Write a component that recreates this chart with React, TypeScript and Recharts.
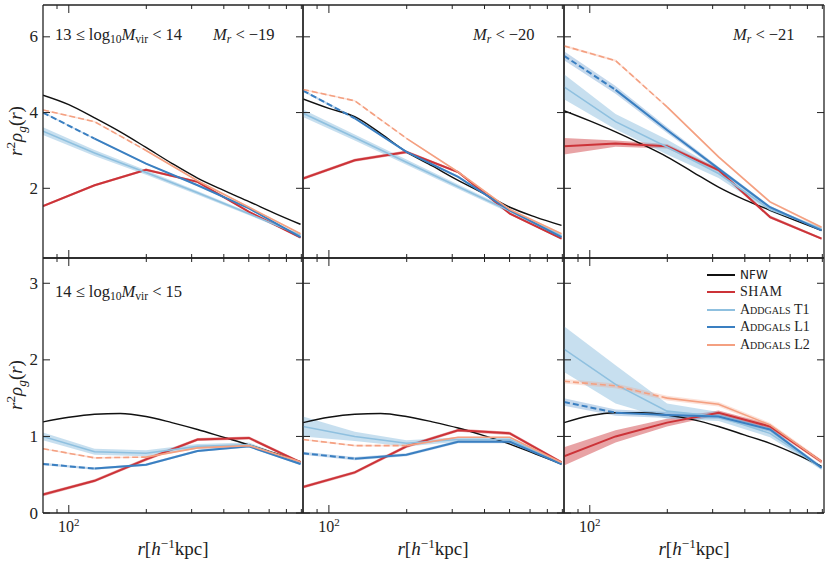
import React from 'react';
import { ComposedChart, Line, Area, XAxis, YAxis } from 'recharts';

// radii (h^-1 kpc): the smooth NFW curve and the measured bins
const NFW_R = [79.4, 100, 125.9, 158.5, 199.5, 251.2, 316.2, 398.1, 501.2, 631.0, 794.3];
const BIN_R = [79.4, 125.9, 199.5, 316.2, 501.2, 794.3];

// one row per panel: top row Mr<-19, -20, -21, then the bottom row
const NFW = [
  [4.46, 4.21, 3.86, 3.49, 3.08, 2.66, 2.27, 1.95, 1.65, 1.34, 1.05],
  [4.36, 4.11, 3.89, 3.45, 2.96, 2.59, 2.21, 1.86, 1.5, 1.24, 1.02],
  [4.05, 3.78, 3.49, 3.17, 2.83, 2.43, 2.03, 1.7, 1.42, 1.15, 0.89],
  [1.19, 1.25, 1.29, 1.3, 1.26, 1.18, 1.09, 0.99, 0.89, 0.78, 0.67],
  [1.18, 1.25, 1.29, 1.3, 1.26, 1.19, 1.11, 1.01, 0.9, 0.77, 0.64],
  [1.18, 1.27, 1.31, 1.31, 1.28, 1.22, 1.13, 1.02, 0.91, 0.77, 0.61],
];

const SHAM = [
  [1.53, 2.08, 2.49, 2.17, 1.38, 0.7],
  [2.26, 2.74, 2.96, 2.43, 1.33, 0.67],
  [3.11, 3.18, 3.11, 2.48, 1.24, 0.67],
  [0.24, 0.42, 0.7, 0.96, 0.98, 0.66],
  [0.34, 0.53, 0.87, 1.08, 1.04, 0.66],
  [0.74, 1.0, 1.18, 1.31, 1.13, 0.67],
];
const SHAM_ERR = [
  [0.03, 0.03, 0.03, 0.03, 0.02, 0.02],
  [0.04, 0.04, 0.04, 0.03, 0.03, 0.02],
  [0.22, 0.08, 0.06, 0.05, 0.04, 0.03],
  [0.02, 0.02, 0.02, 0.02, 0.02, 0.02],
  [0.02, 0.02, 0.02, 0.02, 0.02, 0.02],
  [0.12, 0.08, 0.05, 0.03, 0.03, 0.02],
];

const T1 = [
  [3.51, 2.93, 2.42, 1.88, 1.33, 0.76],
  [3.98, 3.34, 2.69, 2.04, 1.4, 0.75],
  [4.68, 3.76, 3.09, 2.39, 1.44, 0.93],
  [1.0, 0.8, 0.78, 0.87, 0.89, 0.65],
  [1.13, 1.0, 0.91, 0.96, 0.96, 0.65],
  [2.14, 1.68, 1.33, 1.26, 1.04, 0.59],
];
const T1_ERR = [
  [0.1, 0.08, 0.06, 0.05, 0.04, 0.03],
  [0.1, 0.08, 0.07, 0.06, 0.05, 0.04],
  [0.33, 0.2, 0.2, 0.12, 0.06, 0.04],
  [0.05, 0.04, 0.04, 0.03, 0.03, 0.02],
  [0.13, 0.06, 0.04, 0.03, 0.03, 0.02],
  [0.3, 0.25, 0.1, 0.06, 0.05, 0.03],
];

const L1 = [
  [4.0, 3.31, 2.65, 2.08, 1.47, 0.71],
  [4.58, 3.85, 2.96, 2.3, 1.42, 0.71],
  [5.5, 4.6, 3.54, 2.52, 1.5, 0.89],
  [0.64, 0.58, 0.63, 0.81, 0.87, 0.64],
  [0.78, 0.71, 0.76, 0.93, 0.93, 0.64],
  [1.45, 1.31, 1.28, 1.26, 1.09, 0.59],
];
const L1_ERR = [
  [0.02, 0.02, 0.02, 0.02, 0.02, 0.02],
  [0.03, 0.03, 0.03, 0.03, 0.02, 0.02],
  [0.12, 0.1, 0.08, 0.05, 0.04, 0.03],
  [0.015, 0.015, 0.015, 0.015, 0.015, 0.015],
  [0.02, 0.02, 0.02, 0.02, 0.02, 0.02],
  [0.05, 0.04, 0.04, 0.03, 0.03, 0.02],
];

const L2 = [
  [4.07, 3.76, 3.0, 2.2, 1.5, 0.8],
  [4.61, 4.31, 3.32, 2.43, 1.44, 0.8],
  [5.76, 5.37, 4.15, 2.83, 1.64, 0.97],
  [0.84, 0.72, 0.73, 0.85, 0.88, 0.67],
  [0.96, 0.88, 0.88, 0.99, 0.99, 0.66],
  [1.72, 1.66, 1.5, 1.42, 1.15, 0.67],
];
const L2_ERR = [
  [0.02, 0.02, 0.02, 0.02, 0.02, 0.02],
  [0.02, 0.02, 0.02, 0.02, 0.02, 0.02],
  [0.03, 0.03, 0.03, 0.03, 0.03, 0.03],
  [0.01, 0.01, 0.01, 0.01, 0.01, 0.01],
  [0.01, 0.01, 0.01, 0.01, 0.01, 0.01],
  [0.03, 0.03, 0.03, 0.03, 0.03, 0.03],
];

const MAG_LABELS = ['−19', '−20', '−21'];
const MASS_LABELS = [['13', '14'], ['14', '15']];
const LEGEND_NAMES = ['NFW', 'SHAM', 'Addgals T1', 'Addgals L1', 'Addgals L2'];

const X_TICKS = [90, 100, 200, 300, 400, 500, 600, 700, 800];
const Y_TICKS = [[2, 4, 6], [0, 1, 2, 3]];
const Y_DOMAINS = [[0.16, 6.84], [0, 3.33]];
const X_DOMAIN = [79.4, 812];

const W = 830;
const H = 564;
const COLS = [[43, 303], [303, 564], [564, 824]];
const ROWS = [[5, 258], [258, 513]];

const SERIF = '"Liberation Serif", "DejaVu Serif", serif';
const SANS = '"DejaVu Sans", sans-serif';
const INK = '#222';
const C_NFW = '#111';
const C_SHAM = '#cc3338';
const C_T1 = '#8fc0df';
const C_L1 = '#3a7fc1';
const C_L2 = '#f4a081';
const LEGEND_COLORS = [C_NFW, C_SHAM, C_T1, C_L1, C_L2];

const band = (v: number, e: number) => [v - e, v + e];

const xTick = (side: 'top' | 'bottom', label: boolean) => (p: any) => {
  const v = p.payload.value;
  const len = v === 100 ? 8 : 4;
  const dir = side === 'bottom' ? -1 : 1;
  return (
    <g>
      <line x1={p.x} x2={p.x} y1={p.y} y2={p.y + dir * len} stroke={INK} strokeWidth={1} />
      {label && v === 100 && (
        <text x={p.x} y={p.y + 19} textAnchor="middle" fontFamily={SERIF} fontSize={16} fill={INK}>
          10
          <tspan dy={-6} fontSize={11}>2</tspan>
        </text>
      )}
    </g>
  );
};

const yTick = (side: 'left' | 'right', label: boolean) => (p: any) => {
  const dir = side === 'left' ? 1 : -1;
  return (
    <g>
      <line x1={p.x} x2={p.x + dir * 7} y1={p.y} y2={p.y} stroke={INK} strokeWidth={1} />
      {label && (
        <text x={p.x - 5} y={p.y + 5.5} textAnchor="end" fontFamily={SERIF} fontSize={17} fill={INK}>
          {p.payload.value}
        </text>
      )}
    </g>
  );
};

function Panel({ idx }: { idx: number }) {
  const col = idx % 3;
  const row = Math.floor(idx / 3);
  const [x0, x1] = COLS[col];
  const [y0, y1] = ROWS[row];

  const bins = BIN_R.map((r, i) => ({
    r,
    sham: SHAM[idx][i],
    shamBand: band(SHAM[idx][i], SHAM_ERR[idx][i]),
    t1: T1[idx][i],
    t1Band: band(T1[idx][i], T1_ERR[idx][i]),
    l1: L1[idx][i],
    l1Band: band(L1[idx][i], L1_ERR[idx][i]),
    l2: L2[idx][i],
    l2Band: band(L2[idx][i], L2_ERR[idx][i]),
  }));
  const nfw = NFW_R.map((r, i) => ({ r, nfw: NFW[idx][i] }));

  const frame = { stroke: INK, strokeWidth: 1.3 };
  const ax = { xAxisId: 'b', yAxisId: 'l', isAnimationActive: false } as const;

  // every axis is 1px thick, so the margins leave that pixel outside the plot box
  return (
    <div style={{ position: 'absolute', left: 0, top: 0 }}>
      <ComposedChart
        width={W}
        height={H}
        margin={{ top: y0 - 1, bottom: H - y1 - 1, left: x0 - 1, right: W - x1 - 1 }}
      >
        <XAxis xAxisId="b" dataKey="r" type="number" scale="log" domain={X_DOMAIN} allowDataOverflow
          ticks={X_TICKS} interval={0} height={1} tickSize={0} tickMargin={0} tickLine={false}
          axisLine={frame} tick={xTick('bottom', row === 1)} />
        <XAxis xAxisId="t" orientation="top" dataKey="r" type="number" scale="log" domain={X_DOMAIN} allowDataOverflow
          ticks={X_TICKS} interval={0} height={1} tickSize={0} tickMargin={0} tickLine={false}
          axisLine={frame} tick={xTick('top', false)} />
        <YAxis yAxisId="l" type="number" domain={Y_DOMAINS[row]} allowDataOverflow ticks={Y_TICKS[row]}
          interval={0} width={1} tickSize={0} tickMargin={0} tickLine={false}
          axisLine={frame} tick={yTick('left', col === 0)} />
        <YAxis yAxisId="r" orientation="right" type="number" domain={Y_DOMAINS[row]} allowDataOverflow
          ticks={Y_TICKS[row]} interval={0} width={1} tickSize={0} tickMargin={0} tickLine={false}
          axisLine={frame} tick={yTick('right', false)} />

        <Area {...ax} data={bins} dataKey="shamBand" type="linear" stroke="none" fill={C_SHAM} fillOpacity={0.45} />
        <Area {...ax} data={bins} dataKey="t1Band" type="linear" stroke="none" fill={C_T1} fillOpacity={0.5} />
        <Area {...ax} data={bins} dataKey="l1Band" type="linear" stroke="none" fill={C_L1} fillOpacity={0.3} />
        <Area {...ax} data={bins} dataKey="l2Band" type="linear" stroke="none" fill={C_L2} fillOpacity={0.3} />

        <Line {...ax} data={nfw} dataKey="nfw" type="monotone" stroke={C_NFW} strokeWidth={1.4} dot={false} activeDot={false} />
        <Line {...ax} data={bins} dataKey="sham" type="linear" stroke={C_SHAM} strokeWidth={2} dot={false} activeDot={false} />
        <Line {...ax} data={bins} dataKey="t1" type="linear" stroke={C_T1} strokeWidth={1.6} dot={false} activeDot={false} />
        <Line {...ax} data={bins.slice(0, 2)} dataKey="l1" type="linear" stroke={C_L1} strokeWidth={2} strokeDasharray="6 3" dot={false} activeDot={false} />
        <Line {...ax} data={bins.slice(1)} dataKey="l1" type="linear" stroke={C_L1} strokeWidth={2} dot={false} activeDot={false} />
        <Line {...ax} data={bins.slice(0, 3)} dataKey="l2" type="linear" stroke={C_L2} strokeWidth={1.6} strokeDasharray="6 3" dot={false} activeDot={false} />
        <Line {...ax} data={bins.slice(2)} dataKey="l2" type="linear" stroke={C_L2} strokeWidth={1.6} dot={false} activeDot={false} />
      </ComposedChart>
    </div>
  );
}

const subStyle: React.CSSProperties = { fontSize: '0.7em', verticalAlign: '-0.3em', lineHeight: 0 };
const supStyle: React.CSSProperties = { fontSize: '0.7em', verticalAlign: '0.5em', lineHeight: 0 };

function Note({ left, top, children, size = 16.5 }: { left: number; top: number; children: React.ReactNode; size?: number }) {
  return (
    <div style={{ position: 'absolute', left, top, fontFamily: SERIF, fontSize: size, color: INK, whiteSpace: 'nowrap', lineHeight: '20px' }}>
      {children}
    </div>
  );
}

function YLabel({ cy }: { cy: number }) {
  return (
    <div style={{ position: 'absolute', left: 16, top: cy, transform: 'translate(-50%, -50%) rotate(-90deg)', fontFamily: SERIF, fontSize: 19, color: INK, whiteSpace: 'nowrap' }}>
      <i>r</i><span style={supStyle}>2</span><i>ρ</i><span style={subStyle}><i>g</i></span>(<i>r</i>)
    </div>
  );
}

function XLabel({ cx }: { cx: number }) {
  return (
    <div style={{ position: 'absolute', left: cx, top: 549, transform: 'translate(-50%, -50%)', fontFamily: SERIF, fontSize: 19, color: INK, whiteSpace: 'nowrap' }}>
      <i>r</i>[<i>h</i><span style={supStyle}>−1</span>kpc]
    </div>
  );
}

function MassNote({ top, pair }: { top: number; pair: string[] }) {
  return (
    <Note left={55} top={top}>
      {pair[0]} ≤ log<span style={subStyle}>10</span><i>M</i><span style={subStyle}>vir</span> &lt; {pair[1]}
    </Note>
  );
}

function Legend() {
  return (
    <div style={{ position: 'absolute', left: 707, top: 266 }}>
      {LEGEND_NAMES.map((name, i) => (
        <div key={name} style={{ display: 'flex', alignItems: 'center', height: 17.5 }}>
          <div style={{ width: 28, height: i === 0 ? 1.6 : 2, background: LEGEND_COLORS[i], marginRight: 5 }} />
          <span
            style={{
              fontFamily: i === 0 ? SANS : SERIF,
              fontSize: i === 0 ? 12 : 14,
              fontVariant: i > 1 ? 'small-caps' : 'normal',
              color: INK,
              letterSpacing: i === 1 ? 0.5 : 0,
            }}
          >
            {name}
          </span>
        </div>
      ))}
    </div>
  );
}

export default function App() {
  return (
    <div style={{ position: 'absolute', left: 0, top: 0, width: W, height: H, background: '#fff', overflow: 'hidden' }}>
      {[0, 1, 2, 3, 4, 5].map((i) => (
        <Panel key={i} idx={i} />
      ))}
      <MassNote top={25} pair={MASS_LABELS[0]} />
      <MassNote top={282} pair={MASS_LABELS[1]} />
      <Note left={213} top={25}><i>M</i><span style={subStyle}><i>r</i></span> &lt; {MAG_LABELS[0]}</Note>
      <Note left={473} top={25}><i>M</i><span style={subStyle}><i>r</i></span> &lt; {MAG_LABELS[1]}</Note>
      <Note left={733} top={25}><i>M</i><span style={subStyle}><i>r</i></span> &lt; {MAG_LABELS[2]}</Note>
      <YLabel cy={131} />
      <YLabel cy={385} />
      <XLabel cx={173} />
      <XLabel cx={433} />
      <XLabel cx={694} />
      <Legend />
    </div>
  );
}
